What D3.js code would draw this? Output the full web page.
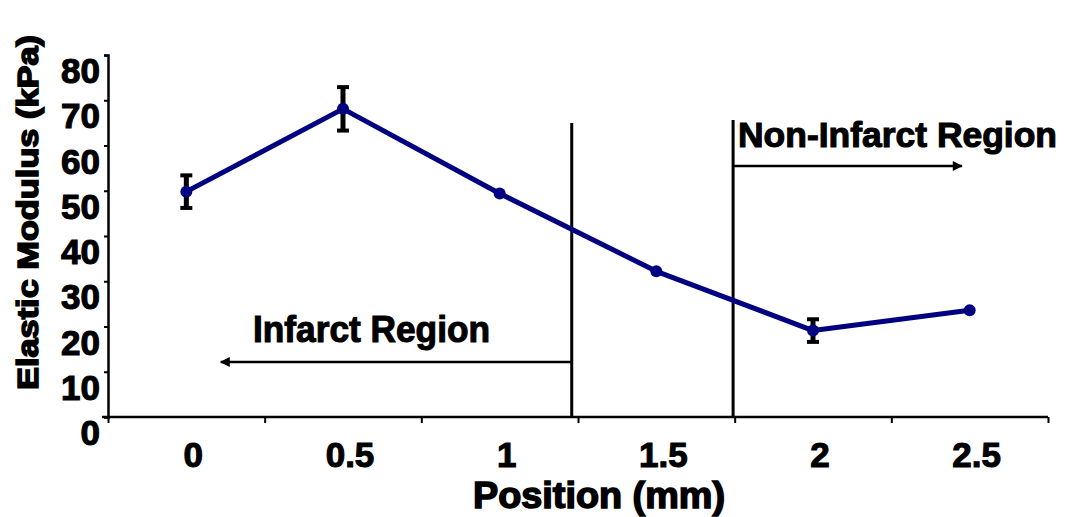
<!DOCTYPE html>
<html>
<head>
<meta charset="utf-8">
<script src="https://cdn.jsdelivr.net/npm/d3@7"></script>
<style>
  html, body { margin: 0; padding: 0; background: #fff; }
  svg { display: block; }
  text { font-family: "Liberation Sans", Arial, sans-serif; font-weight: bold; fill: #000; }
</style>
</head>
<body>
<svg id="chart" width="1065" height="517"></svg>
<script>
// ---- data ----
const positions = [0, 0.5, 1, 1.5, 2, 2.5];
const positionLabels = ["0", "0.5", "1", "1.5", "2", "2.5"];
const modulus = [49.8, 68.1, 49.4, 32.2, 19.1, 23.6];
const errors = [3.6, 4.8, 0, 0, 2.5, 0];
const yTicks = [0, 10, 20, 30, 40, 50, 60, 70, 80];
const boundaries = [1.23, 1.745];          // vertical separators (position, mm)
const infarctArrow = [1.23, 0.11];         // arrow from -> to (position)
const nonInfarctArrow = [1.745, 2.475];
const xTitle = "Position (mm)";
const yTitle = "Elastic Modulus (kPa)";
const infarctLabel = "Infarct Region";
const nonInfarctLabel = "Non-Infarct Region";

(function () {
const svg = d3.select("#chart");
const mLeft = 108, mRight = 1048, mTop = 55, mBottom = 417;

const x = d3.scaleLinear().domain([-0.25, 2.75]).range([mLeft, mRight]);
const y = d3.scaleLinear().domain([0, 80]).range([mBottom, mTop]);

// defs: arrowheads
const defs = svg.append("defs");
defs.append("marker").attr("id", "arrow")
  .attr("viewBox", "0 0 10 10").attr("refX", 9).attr("refY", 5)
  .attr("markerWidth", 5).attr("markerHeight", 4).attr("markerUnits", "strokeWidth")
  .attr("orient", "auto")
  .append("path").attr("d", "M0,0 L10,5 L0,10 Z").attr("fill", "#000");

// ---- axes ----
const xTickVals = d3.range(-0.25, 2.76, 0.5);
const xAxis = svg.append("g").attr("transform", `translate(0,${mBottom})`)
  .call(d3.axisBottom(x).tickValues(xTickVals).tickFormat("").tickSizeOuter(0).tickSize(6));
xAxis.select(".domain").attr("d", `M${mLeft - 6},0H${mRight}`).attr("stroke-width", 2.5);
xAxis.selectAll(".tick line").attr("stroke-width", 2);

const yAxis = svg.append("g").attr("transform", `translate(${mLeft},0)`)
  .call(d3.axisLeft(y).tickValues(yTicks).tickFormat("").tickSizeOuter(0).tickSize(4));
yAxis.select(".domain").attr("stroke-width", 2.5);
yAxis.selectAll(".tick line").attr("stroke-width", 2);

// y tick labels
svg.append("g").selectAll("text").data(yTicks).join("text")
  .attr("x", 100).attr("y", d => y(d) + 28)
  .attr("text-anchor", "end").attr("font-size", 35)
  .attr("stroke", "#000").attr("stroke-width", 1.1)
  .text(d => d);

// x tick labels
svg.append("g").selectAll("text").data(positions).join("text")
  .attr("x", d => x(d) + 7).attr("y", 467)
  .attr("text-anchor", "middle").attr("font-size", 35)
  .attr("stroke", "#000").attr("stroke-width", 1.1)
  .text((d, i) => positionLabels[i]);

// axis titles
svg.append("text").attr("x", 473).attr("y", 508)
  .attr("font-size", 36).attr("textLength", 252).attr("lengthAdjust", "spacingAndGlyphs")
  .attr("stroke", "#000").attr("stroke-width", 1.5)
  .text(xTitle);

svg.append("text").attr("transform", "translate(38,390) rotate(-90)")
  .attr("font-size", 29).attr("textLength", 355).attr("lengthAdjust", "spacingAndGlyphs")
  .attr("stroke", "#000").attr("stroke-width", 1.5)
  .text(yTitle);

// ---- region separators ----
svg.append("line").attr("x1", x(boundaries[0])).attr("x2", x(boundaries[0]))
  .attr("y1", 123).attr("y2", mBottom).attr("stroke", "#000").attr("stroke-width", 3);
svg.append("line").attr("x1", x(boundaries[1])).attr("x2", x(boundaries[1]))
  .attr("y1", 120).attr("y2", mBottom).attr("stroke", "#000").attr("stroke-width", 3);

// arrows
svg.append("line").attr("x1", x(infarctArrow[0])).attr("x2", x(infarctArrow[1]))
  .attr("y1", 362).attr("y2", 362).attr("stroke", "#000").attr("stroke-width", 2.5)
  .attr("marker-end", "url(#arrow)");
svg.append("line").attr("x1", x(nonInfarctArrow[0])).attr("x2", x(nonInfarctArrow[1]))
  .attr("y1", 166).attr("y2", 166).attr("stroke", "#000").attr("stroke-width", 2.5)
  .attr("marker-end", "url(#arrow)");

// region labels
svg.append("text").attr("x", 253).attr("y", 342)
  .attr("font-size", 37).attr("textLength", 237).attr("lengthAdjust", "spacingAndGlyphs")
  .attr("stroke", "#000").attr("stroke-width", 1.1)
  .text(infarctLabel);
svg.append("text").attr("x", 738).attr("y", 147)
  .attr("font-size", 35).attr("textLength", 319).attr("lengthAdjust", "spacingAndGlyphs")
  .attr("stroke", "#000").attr("stroke-width", 1.1)
  .text(nonInfarctLabel);

// ---- data series ----
const data = positions.map((p, i) => ({ p, v: modulus[i], e: errors[i] }));

svg.append("path").datum(data)
  .attr("fill", "none").attr("stroke", "#000080").attr("stroke-width", 5)
  .attr("stroke-linejoin", "round")
  .attr("d", d3.line().x(d => x(d.p)).y(d => y(d.v)));

// error bars
const eb = svg.append("g").selectAll("g").data(data.filter(d => d.e > 0)).join("g");
eb.append("line").attr("x1", d => x(d.p)).attr("x2", d => x(d.p))
  .attr("y1", d => y(d.v + d.e)).attr("y2", d => y(d.v - d.e))
  .attr("stroke", "#000").attr("stroke-width", 5);
eb.append("line").attr("x1", d => x(d.p) - 6).attr("x2", d => x(d.p) + 6)
  .attr("y1", d => y(d.v + d.e)).attr("y2", d => y(d.v + d.e))
  .attr("stroke", "#000").attr("stroke-width", 4);
eb.append("line").attr("x1", d => x(d.p) - 6).attr("x2", d => x(d.p) + 6)
  .attr("y1", d => y(d.v - d.e)).attr("y2", d => y(d.v - d.e))
  .attr("stroke", "#000").attr("stroke-width", 4);

// markers
svg.append("g").selectAll("circle").data(data).join("circle")
  .attr("cx", d => x(d.p)).attr("cy", d => y(d.v)).attr("r", 6)
  .attr("fill", "#000080");
})();
</script>
</body>
</html>
